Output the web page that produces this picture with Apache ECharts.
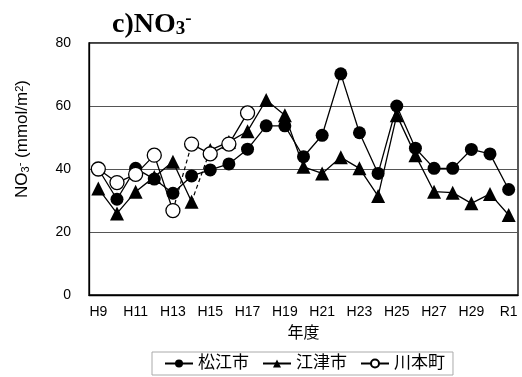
<!DOCTYPE html>
<html><head><meta charset="utf-8">
<script src="https://cdn.jsdelivr.net/npm/echarts@6/dist/echarts.min.js"></script>
<style>html,body{margin:0;padding:0;background:#fff}#c{width:522px;height:377px}</style>
</head><body><div id="c"></div>
<script>
const categories = ['H9','H10','H11','H12','H13','H14','H15','H16','H17','H18','H19','H20','H21','H22','H23','H24','H25','H26','H27','H28','H29','H30','R1'];
const matsue = [40,30.4,40.2,36.8,32.3,37.8,39.7,41.6,46.3,53.7,53.7,43.9,50.7,70.2,51.5,38.6,60,46.6,40.2,40.2,46.2,44.8,33.5];
const gotsu = [33.8,25.9,32.8,37.5,42.3,29.6,46,48.6,52,61.9,57.1,40.7,38.6,43.7,40.2,31.4,57.1,44.4,32.8,32.5,29.1,32.1,25.4];
const kawamoto = [40,35.7,38.3,44.4,26.8,47.9,44.8,47.9,57.8,null,null,null,null,null,null,null,null,null,null,null,null,null,null];
const yTicks = [0,20,40,60,80];

function seg(arr, from, to) {
  return arr.map((v, i) => (i >= from && i <= to) ? v : null);
}
const FONT = '"Liberation Sans","Noto Sans CJK JP",sans-serif';
const lineStyle = {color:'#000', width:1.3};
const chart = echarts.init(document.getElementById('c'));
chart.setOption({
  animation:false,
  title:{
    text:'c)NO{sub|3}{sup|-}', left:107, top:5,
    textStyle:{
      fontFamily:'"Liberation Serif","DejaVu Serif",serif', fontSize:28, fontWeight:'bold', color:'#000',
      rich:{
        sub:{fontFamily:'"Liberation Serif",serif', fontSize:19, fontWeight:'bold', verticalAlign:'bottom', padding:[8,0,0,0]},
        sup:{fontFamily:'"Liberation Serif",serif', fontSize:19, fontWeight:'bold', verticalAlign:'top', padding:[0,0,10,0]}
      }
    }
  },
  grid:{left:89, right:4, top:43, bottom:82, show:true, borderColor:'#000', borderWidth:1.3},
  legend:{
    data:['松江市','江津市','川本町'],
    bottom:2, left:152,
    itemWidth:28, itemHeight:10, itemGap:13,
    borderColor:'#aaa', borderWidth:1, padding:[3,8,3,12],
    textStyle:{fontFamily:FONT, fontSize:17, color:'#000'}
  },
  xAxis:{
    type:'category', data:categories, boundaryGap:true,
    name:'年度', nameLocation:'middle', nameGap:31,
    nameTextStyle:{fontFamily:FONT, fontSize:16, color:'#000'},
    axisLine:{lineStyle:{color:'#000', width:1.3}},
    axisTick:{inside:true, length:5, lineStyle:{color:'#888'}},
    axisLabel:{interval:1, fontFamily:FONT, fontSize:14, color:'#000', margin:10},
    splitLine:{show:false}
  },
  yAxis:{
    type:'value', min:yTicks[0], max:yTicks[yTicks.length-1], interval:20,
    name:'NO{sub|3}{sup|-} (mmol/m{sup|2})', nameLocation:'middle', nameGap:58, nameRotate:90,
    nameTextStyle:{fontFamily:FONT, fontSize:17, color:'#000', padding:[0,0,0,60],
      rich:{sub:{fontSize:11, verticalAlign:'bottom'}, sup:{fontSize:11, verticalAlign:'top'}}},
    axisLine:{show:true, lineStyle:{color:'#000', width:1.3}},
    axisTick:{show:false},
    axisLabel:{fontFamily:FONT, fontSize:14, color:'#000', margin:18},
    splitLine:{lineStyle:{color:'#555', width:1}}
  },
  series:[
    {name:'松江市', type:'line', data:matsue, symbol:'circle', symbolSize:13, showAllSymbol:true,
     itemStyle:{color:'#000'}, lineStyle:lineStyle, z:2},
    {name:'江津市', type:'line', data:seg(gotsu,0,5), symbol:'triangle', symbolSize:14, showAllSymbol:true,
     itemStyle:{color:'#000'}, lineStyle:lineStyle, z:3},
    {name:'江津市', type:'line', data:seg(gotsu,6,22), symbol:'triangle', symbolSize:14, showAllSymbol:true,
     itemStyle:{color:'#000'}, lineStyle:lineStyle, z:3},
    {name:'江津市破線', type:'line', data:seg(gotsu,5,6), symbol:'none',
     lineStyle:{color:'#000', width:1.2, type:[4,3]}, z:1},
    {name:'川本町', type:'line', data:seg(kawamoto,0,4), symbol:'circle', symbolSize:14, showAllSymbol:true,
     itemStyle:{color:'#fff', borderColor:'#000', borderWidth:1.3}, lineStyle:lineStyle, z:4},
    {name:'川本町', type:'line', data:seg(kawamoto,5,8), symbol:'circle', symbolSize:14, showAllSymbol:true,
     itemStyle:{color:'#fff', borderColor:'#000', borderWidth:1.3}, lineStyle:lineStyle, z:4},
    {name:'川本町破線', type:'line', data:seg(kawamoto,4,5), symbol:'none',
     lineStyle:{color:'#000', width:1.2, type:[4,3]}, z:1}
  ]
});
</script></body></html>
